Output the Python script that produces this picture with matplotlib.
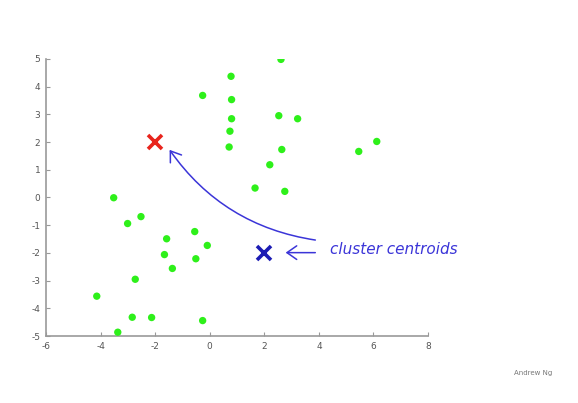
import numpy as np
import matplotlib.pyplot as plt

# cluster points
pts_x = [0.78, 2.61, -0.26, 0.80, 0.80, 0.74, 0.71, 2.53, 3.22, 2.64, 2.20,
         1.66, 2.75, 5.46, 6.12,
         -3.52, -3.01, -2.52, -1.58, -0.55, -0.09, -1.66, -0.51, -1.37,
         -2.73, -4.14, -2.84, -2.13, -0.26, -3.37]
pts_y = [4.37, 4.98, 3.68, 3.53, 2.84, 2.39, 1.82, 2.95, 2.84, 1.73, 1.18,
         0.34, 0.22, 1.66, 2.02,
         -0.01, -0.94, -0.69, -1.49, -1.23, -1.73, -2.06, -2.21, -2.56,
         -2.95, -3.56, -4.32, -4.33, -4.44, -4.86]

centroid_red = (-2.0, 2.0)
centroid_blue = (2.0, -2.0)

xticks = [-6, -4, -2, 0, 2, 4, 6, 8]
yticks = [-5, -4, -3, -2, -1, 0, 1, 2, 3, 4, 5]

pen = "#3b35d8"
plt.rcParams["axes.unicode_minus"] = False

fig = plt.figure(figsize=(5.78, 4.03), dpi=100)
ax = fig.add_axes([0.0796, 0.166, 0.661, 0.688])

ax.scatter(pts_x, pts_y, s=28, color="#2ef01a", edgecolors="none", zorder=3)
ax.plot(*centroid_red, marker="x", color="#e8241c", markersize=10,
        markeredgewidth=2.6, zorder=4)
ax.plot(*centroid_blue, marker="x", color="#1c1cb4", markersize=10,
        markeredgewidth=2.6, zorder=4)

ax.set_xlim(-6, 8)
ax.set_ylim(-5, 5)
ax.set_xticks(xticks)
ax.set_yticks(yticks)
for side in ["top", "right"]:
    ax.spines[side].set_visible(False)
for side in ["left", "bottom"]:
    ax.spines[side].set_color("#999999")
    ax.spines[side].set_linewidth(1.2)
ax.tick_params(direction="in", length=3, width=0.8, color="#999999",
               labelsize=6.5, labelcolor="#555555", pad=4)

# handwritten-style annotation
ax.annotate("", xy=(-1.53, 1.8), xytext=(3.97, -1.55),
            arrowprops=dict(arrowstyle="->,head_length=0.5,head_width=0.35",
                            color=pen, lw=1.1, mutation_scale=14,
                            connectionstyle="arc3,rad=-0.22"))
ax.annotate("", xy=(2.68, -1.99), xytext=(3.97, -1.99),
            arrowprops=dict(arrowstyle="->,head_length=0.5,head_width=0.35",
                            color=pen, lw=1.1, mutation_scale=14))
ax.text(4.41, -1.88, "cluster centroids", color=pen, fontsize=11,
        style="italic", va="center", ha="left", clip_on=False)

fig.text(0.889, 0.074, "Andrew Ng", fontsize=5, color="#777777", va="center")

fig.savefig("out.png", dpi=100)
